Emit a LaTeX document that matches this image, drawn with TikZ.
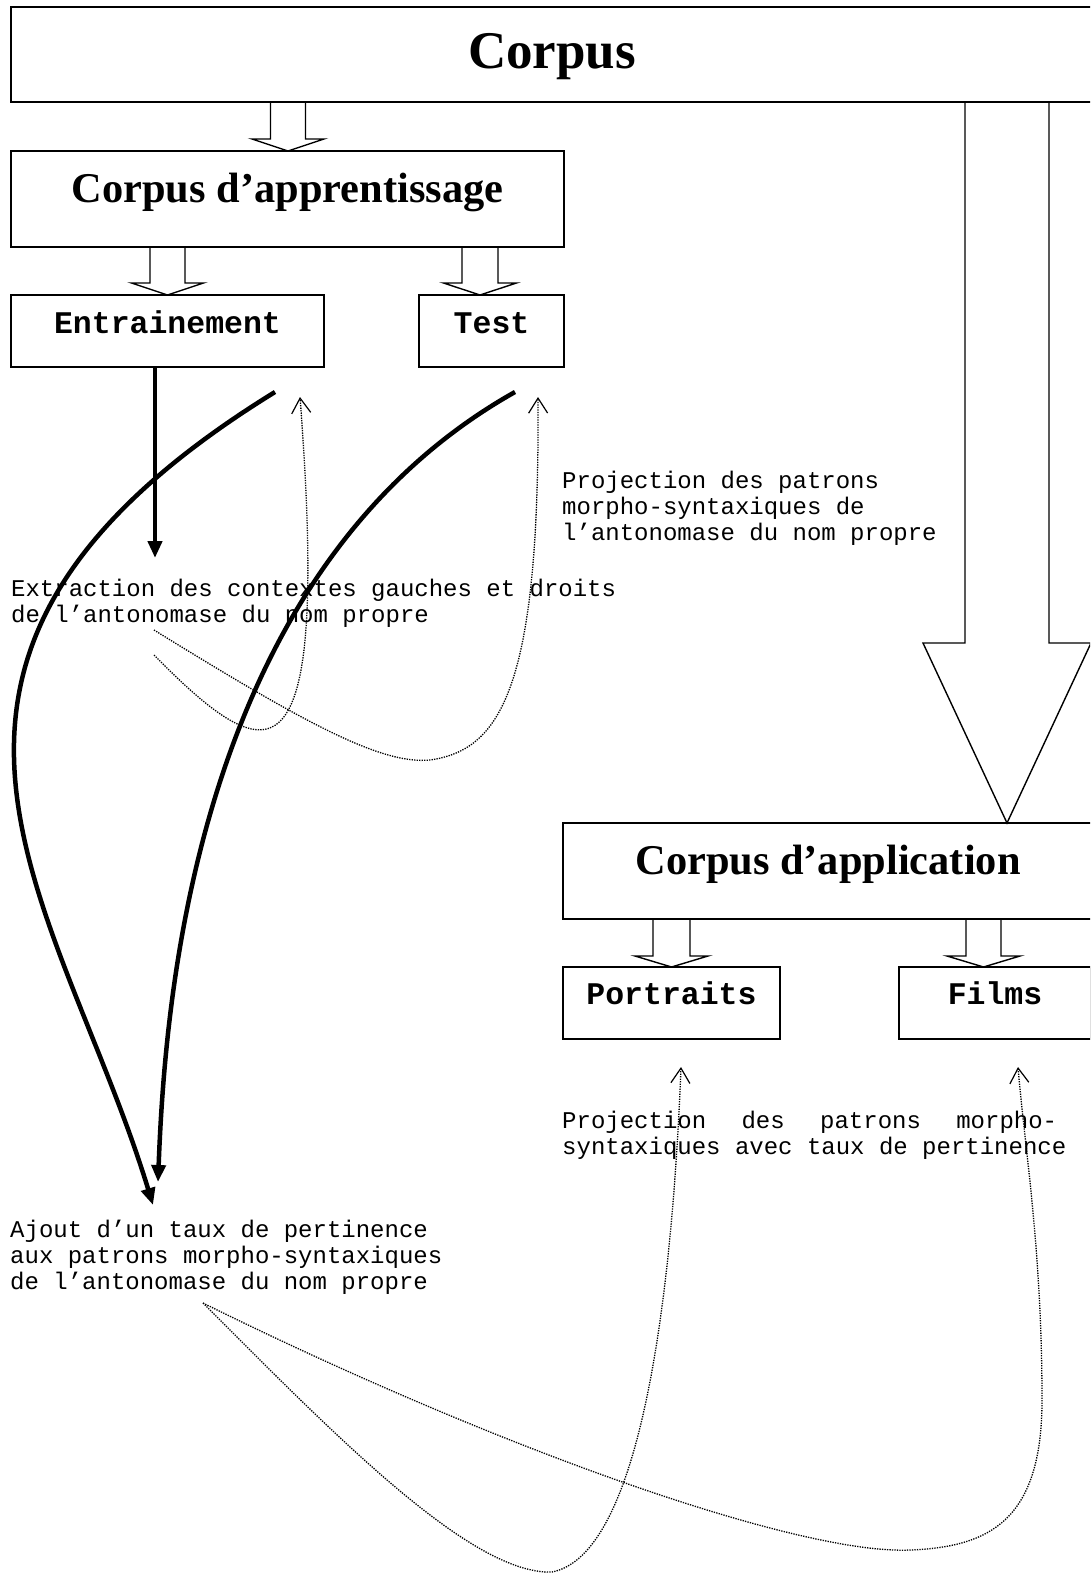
\documentclass[tikz,border=0pt]{standalone}
\usepackage{fontspec}
\setmainfont{Liberation Serif}
\newfontfamily\monofont{Liberation Mono}
\usetikzlibrary{arrows.meta,calc}
\newcommand{\blockarr}[6]{%
  \draw[hollow] let \p1=(#1.south), \p2=(#2.north) in
   ({#3pt-#4pt},\y1) -- ({#3pt-#4pt},{\y2+#6pt}) -- ({#3pt-#5pt},{\y2+#6pt}) -- ({#3pt},\y2)
   -- ({#3pt+#5pt},{\y2+#6pt}) -- ({#3pt+#4pt},{\y2+#6pt}) -- ({#3pt+#4pt},\y1);}
\begin{document}
\begin{tikzpicture}[x=1pt,y=-1pt,
  boxshape/.style={draw, line width=1.4pt, rectangle, inner sep=0pt, outer sep=0pt, text depth=0pt},
  bigtitle/.style={font=\bfseries\fontsize{53}{60}\selectfont},
  subtitle/.style={font=\bfseries\fontsize{42.4}{50}\selectfont},
  leaf/.style={font=\monofont\bfseries\fontsize{31.5}{36}\selectfont},
  note/.style={font=\monofont\fontsize{24}{26}\selectfont, inner sep=0pt, anchor=base west},
  hollow/.style={draw, line width=1.4pt, line join=miter},
  thickarrow/.style={line width=4.5pt, -{Triangle[length=17pt,width=14pt]}},
  dotline/.style={line width=1.3pt, dash pattern=on 1.3pt off 1.2pt},
  dotarrow/.style={dotline, -{Straight Barb[length=15pt,width=19pt,line width=1.2pt]}},
]
\useasboundingbox (0,0) rectangle (1090,1573);
\clip (0,0) rectangle (1090,1573);

% boxes
\node[boxshape, bigtitle, minimum width=1082pt, minimum height=95pt, text height=29pt] (corpus) at (552,54.5) {Corpus};
\node[boxshape, subtitle, minimum width=553pt, minimum height=96pt, text height=7pt] (cda) at (287.5,199) {Corpus d’apprentissage};
\node[boxshape, leaf, minimum width=313pt, minimum height=72pt, text height=5pt] (entr) at (167.5,331) {Entrainement};
\node[boxshape, leaf, minimum width=145pt, minimum height=72pt, text height=5pt] (test) at (491.5,331) {Test};
\node[boxshape, subtitle, minimum width=530pt, minimum height=96pt, text height=7pt] (cdapp) at (828,871) {Corpus d’application};
\node[boxshape, leaf, minimum width=217pt, minimum height=72pt, text height=3pt] (portraits) at (671.5,1003) {Portraits};
\node[boxshape, leaf, minimum width=192pt, minimum height=72pt, text height=3pt] (films) at (995,1003) {Films};

% block arrows
\blockarr{corpus}{cda}{288}{17.5}{36}{12}
\blockarr{cda}{entr}{167.5}{17.5}{36}{12}
\blockarr{cda}{test}{480}{18}{36.5}{12}
\blockarr{corpus}{cdapp}{1007}{42}{84}{180}
\blockarr{cdapp}{portraits}{671.5}{18.5}{36.5}{11}
\blockarr{cdapp}{films}{983.5}{17.5}{36.5}{11}

% texts
\node[note] (extr) at (11,596) {\vtop{\baselineskip=26pt\hbox{Extraction des contextes gauches et droits}\hbox{de l’antonomase du nom propre}}};
\node[note] (proj1) at (562,488) {\vtop{\baselineskip=26pt\hbox{Projection des patrons}\hbox{morpho-syntaxiques de}\hbox{l’antonomase du nom propre}}};
\node[note] (ajout) at (10,1237) {\vtop{\baselineskip=26pt\hbox{Ajout d’un taux de pertinence}\hbox{aux patrons morpho-syntaxiques}\hbox{de l’antonomase du nom propre}}};
\node[note] (proj2) at (562,1128) {\vtop{\baselineskip=26pt\hbox to 495pt{Projection\hfill des\hfill patrons\hfill morpho-}\hbox{syntaxiques avec taux de pertinence}}};

% coordinates of free ends
\coordinate (exttip) at (155,558);
\coordinate (cAstart) at (275,392);
\coordinate (cAend) at (153,1205);
\coordinate (cBstart) at (515,392);
\coordinate (cBend) at (158,1182);
\coordinate (d1start) at (154,655);
\coordinate (d1end) at (300,397);
\coordinate (d2start) at (154,630);
\coordinate (d2end) at (538,397);
\coordinate (d34start) at (203,1303);
\coordinate (d3end) at (681,1067);
\coordinate (d4end) at (1018,1067);

% thick arrows
\draw[thickarrow] (entr.south -| exttip) -- (exttip);
\draw[thickarrow] (cAstart) .. controls (-160,660) and (60,900) .. (cAend);
\draw[thickarrow] (cBstart) .. controls (195,572) and (165,1000) .. (cBend);

% dotted arrows
\draw[dotarrow] (d1start) .. controls (272,775) and (330,790) .. (d1end);
\draw[dotarrow] (d2start) .. controls (300,720) and (380,765) .. (430,760) .. controls (500,750) and (540,690) .. (d2end);
\draw[dotarrow] (d34start) .. controls (330,1430) and (470,1575) .. (552,1572) .. controls (640,1555) and (672,1300) .. (d3end);
\draw[dotarrow] (d34start) .. controls (500,1450) and (800,1555) .. (910,1550) .. controls (990,1547) and (1042,1520) .. (1042,1400) .. controls (1042,1250) and (1025,1150) .. (d4end);
\end{tikzpicture}
\end{document}
